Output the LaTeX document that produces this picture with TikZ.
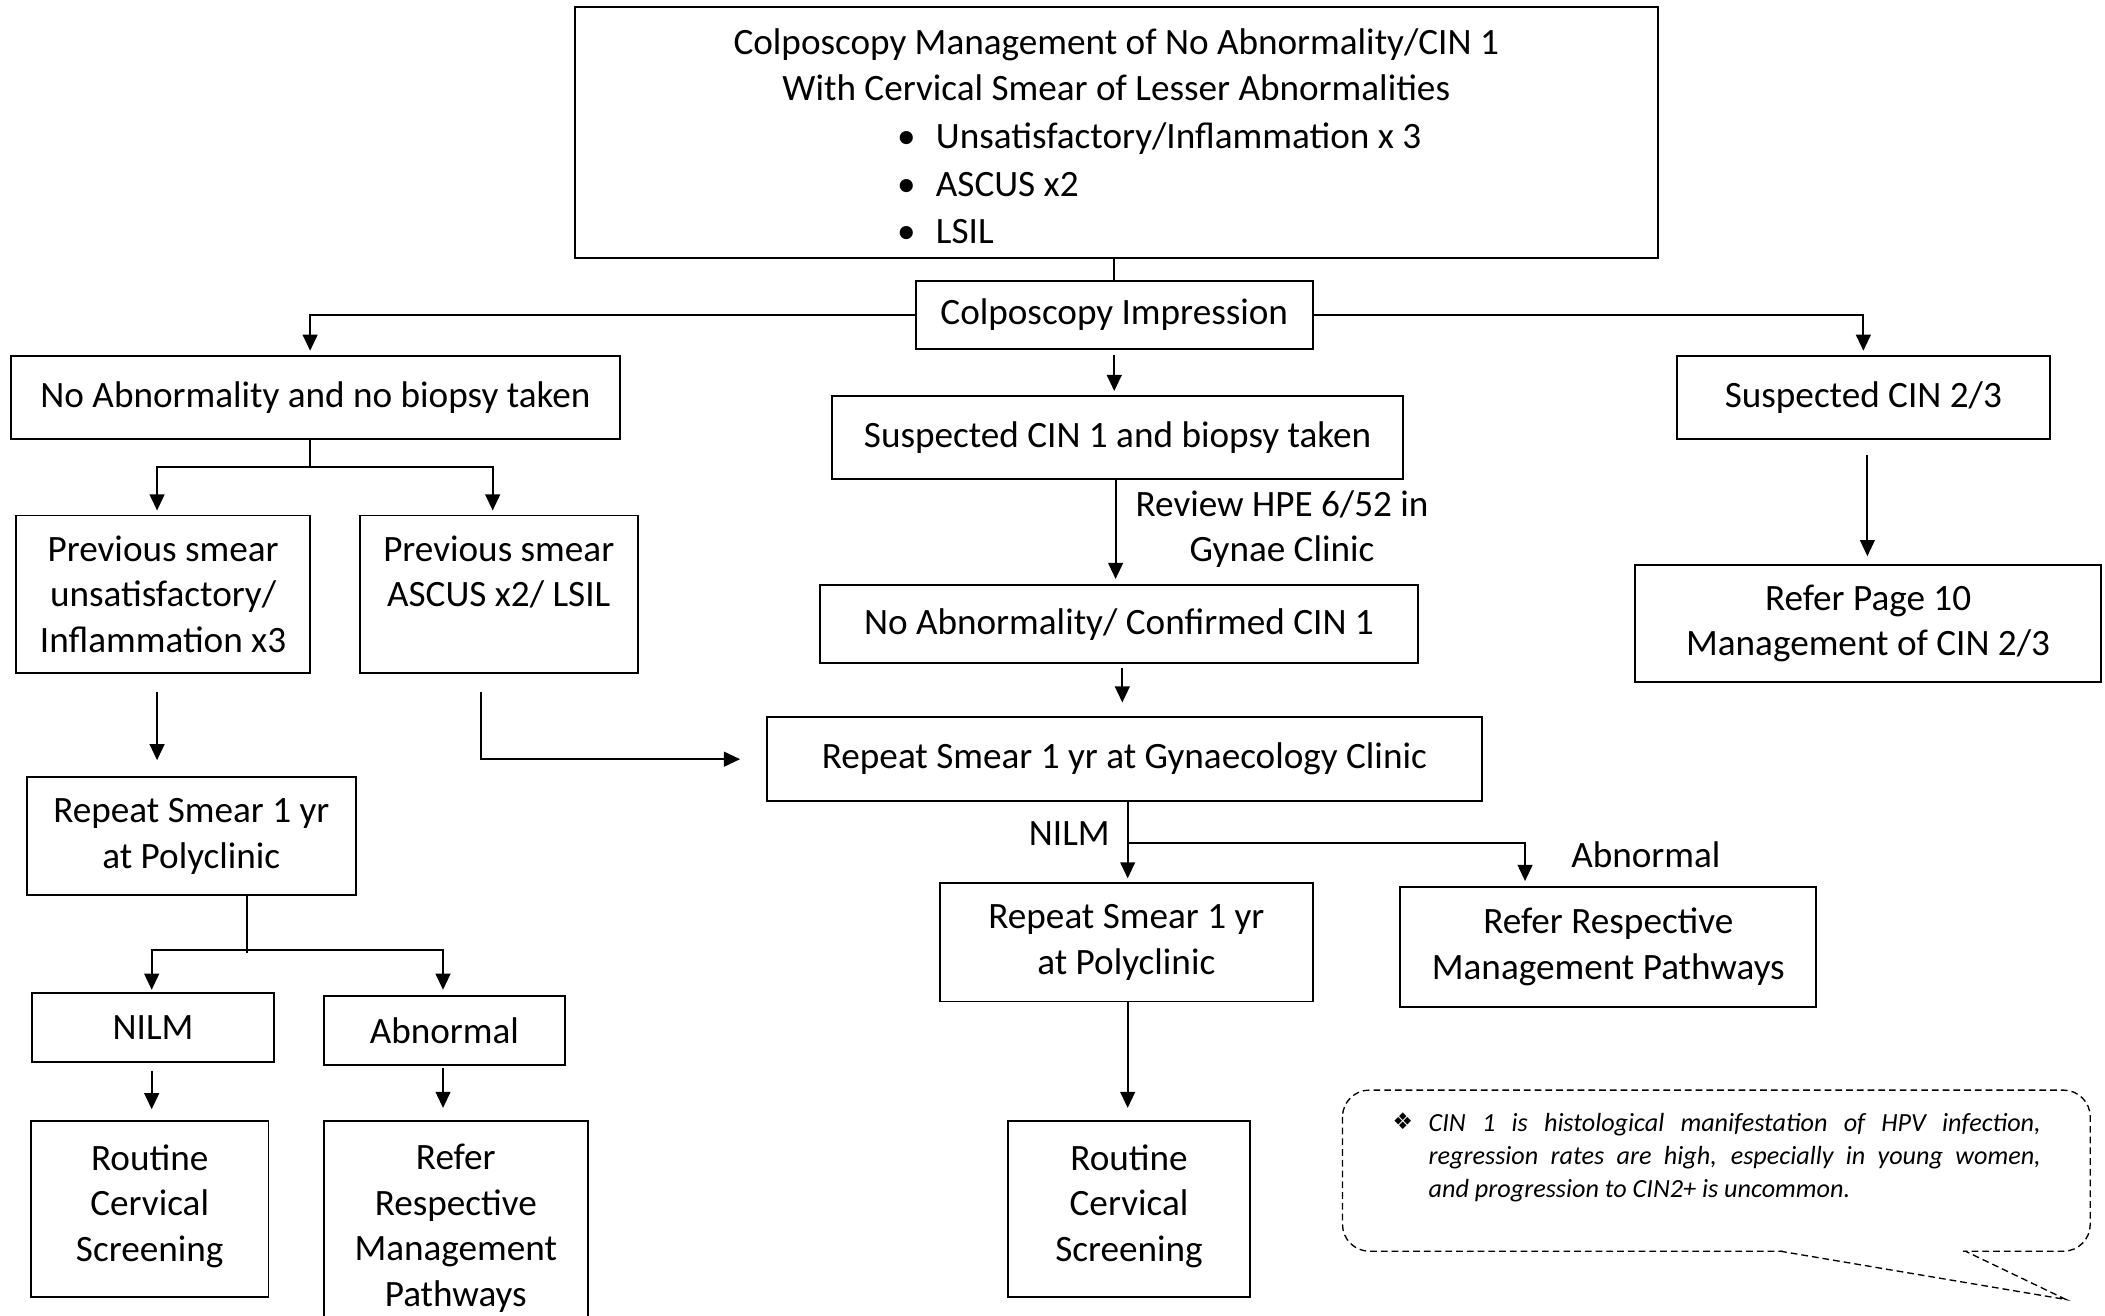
\documentclass[tikz,border=0pt]{standalone}
\usepackage{fontspec}
\setmainfont{Carlito}
\newfontfamily\symbolfont{DejaVu Sans}
\usetikzlibrary{arrows.meta}
\newcommand\flowfont{\fontsize{27.7pt}{34pt}\selectfont}
\newcommand\notefont{\fontsize{19.5pt}{24.5pt}\selectfont\itshape}
\newcommand\listbullet{\makebox[29pt][l]{\textbullet}}

\begin{document}
\begin{tikzpicture}[x=1pt, y=-1pt,
  box/.style={draw, line width=1.45pt, align=center, inner sep=0pt, font=\flowfont},
  lbl/.style={font=\flowfont, align=center, inner sep=0pt},
  link/.style={line width=1.45pt},
  arr/.style={line width=1.45pt, -{Triangle[length=12pt,width=11pt]}},
  callout/.style={line width=1pt, dash pattern=on 5pt off 3pt}
]
\useasboundingbox (0,0) rectangle (1568,980);
\clip (0,0) rectangle (1568,980);
\fill[white] (0,0) rectangle (1568,980);

% heading box with the smear results
\node[box, minimum width=807pt, minimum height=187pt] (top) at (831.5,98.5) {};
\node[lbl] (title) at (831.5,48) {Colposcopy Management of No Abnormality/CIN 1\\With Cervical Smear of Lesser Abnormalities};
\node[lbl, align=left, anchor=west] (smears) at (668,136.5)
  {\listbullet Unsatisfactory/Inflammation x 3\\[1.5pt]\listbullet ASCUS x2\\[1.5pt]\listbullet LSIL};

% flow boxes
\node[box, minimum width=296pt, minimum height=51pt] (imp) at (830,234.5) {Colposcopy Impression};
\node[box, minimum width=454pt, minimum height=62pt] (noab) at (235,296) {\raisebox{2.5pt}{No Abnormality and no biopsy taken}};
\node[box, minimum width=425pt, minimum height=62pt] (cin1) at (832.5,326) {\raisebox{2.5pt}{Suspected CIN 1 and biopsy taken}};
\node[box, minimum width=278pt, minimum height=62pt] (cin23) at (1388,296) {\raisebox{2.5pt}{Suspected CIN 2/3}};
\node[box, minimum width=219pt, minimum height=117pt] (prev1) at (121.5,442.5) {Previous smear\\unsatisfactory/\\Inflammation x3};
\node[box, minimum width=207pt, minimum height=117pt] (prev2) at (371.5,442.5) {Previous smear\\ASCUS x2/ LSIL\\\mbox{}};
\node[box, minimum width=445pt, minimum height=58pt] (conf) at (833.5,465) {No Abnormality/ Confirmed CIN 1};
\node[box, minimum width=347pt, minimum height=87pt] (page10) at (1391.5,464.5) {Refer Page 10\\Management of CIN 2/3};
\node[box, minimum width=533pt, minimum height=63pt] (gyn) at (837.5,565.5) {\raisebox{2.5pt}{Repeat Smear 1 yr at Gynaecology Clinic}};
\node[box, minimum width=245pt, minimum height=88pt] (rpl) at (142.5,623) {Repeat Smear 1 yr\\at Polyclinic};
\node[box, minimum width=278pt, minimum height=88pt] (rpm) at (839,702) {Repeat Smear 1 yr\\at Polyclinic};
\node[box, minimum width=310pt, minimum height=89pt] (refm) at (1198,705.5) {Refer Respective\\Management Pathways};
\node[box, minimum width=180pt, minimum height=51pt] (nilm) at (114,765.5) {NILM};
\node[box, minimum width=180pt, minimum height=51pt] (abn) at (331,767.5) {Abnormal};
\node[box, minimum width=177pt, minimum height=131pt, text depth=9pt] (rcl) at (111.5,900.5) {Routine\\Cervical\\Screening};
\node[box, minimum width=197pt, minimum height=160pt] (refl) at (339.5,915) {Refer\\Respective\\Management\\Pathways};
\node[box, minimum width=180pt, minimum height=131pt, text depth=9pt] (rcm) at (841,900.5) {Routine\\Cervical\\Screening};

% connector labels
\node[lbl] (hpe) at (955,394) {Review HPE 6/52 in\\Gynae Clinic};
\node[lbl] (nilmlab) at (796.5,621) {NILM};
\node[lbl] (abnlab) at (1226,637) {Abnormal};

% connectors
\draw[link] (top.south -| imp.north) -- (imp.north);
\draw[arr, shorten >=3pt] (imp.west) -| ([xshift=-4pt]noab.north);
\draw[arr, shorten >=3pt] (imp.east) -| (cin23.north);
\draw[arr, shorten <=4pt, shorten >=3pt] (imp.south) -- (imp.south |- cin1.north);

\draw[link] ([xshift=-4pt]noab.south) -- ++(0,20) coordinate (nb);
\draw[arr, shorten >=3pt] (nb) -| ([xshift=-4.5pt]prev1.north);
\draw[arr, shorten >=3pt] (nb) -| ([xshift=-4.5pt]prev2.north);

\draw[arr, shorten <=14pt, shorten >=12pt] ([xshift=-4.5pt]prev1.south) -- ([xshift=-4.5pt]prev1.south |- rpl.north);
\draw[arr, shorten <=14pt, shorten >=19pt] ([xshift=-13.5pt]prev2.south) |- (gyn.west);

\draw[link] ([xshift=41.5pt]rpl.south) -- ++(0,42);
\path ([xshift=41.5pt]rpl.south) ++(0,40) coordinate (lb);
\draw[arr, shorten >=2pt] (lb) -| ([xshift=-1pt]nilm.north);
\draw[arr, shorten >=4pt] (lb) -| ([xshift=-1pt]abn.north);
\draw[arr, shorten <=6pt, shorten >=8pt] ([xshift=-1pt]nilm.south) -- ([xshift=-1pt]nilm.south |- rcl.north);
\draw[arr, shorten <=2pt, shorten >=9pt] ([xshift=-1pt]abn.south) -- ([xshift=-1pt]abn.south |- refl.north);

\draw[arr, shorten >=4pt] ([xshift=-1.5pt]cin1.south) -- ([xshift=-1.5pt]cin1.south |- conf.north);
\draw[arr, shorten <=3pt, shorten >=10pt] ([xshift=2.5pt]conf.south) -- ([xshift=2.5pt]conf.south |- gyn.north);
\draw[arr, shorten >=3pt] ([xshift=1pt]rpm.north |- gyn.south) -- ([xshift=1pt]rpm.north);
\path ([xshift=1pt]rpm.north |- gyn.south) ++(0,30) coordinate (gb);
\draw[arr, shorten >=4pt] (gb) -| ([xshift=-62pt]refm.north);
\draw[arr, shorten >=9pt] ([xshift=1pt]rpm.south) -- ([xshift=1pt]rpm.south |- rcm.north);

\draw[arr, shorten <=11pt, shorten >=6pt] ([xshift=3pt]cin23.south) -- ([xshift=3pt]cin23.south |- page10.north);

% speech-bubble note
\draw[callout, rounded corners=20pt] (1000,812) rectangle (1557,932);
\fill[white] (1328,928) rectangle (1462,936);
\draw[callout] (1326,932) -- (1539,968) -- (1464,932);
\node[inner sep=0pt, font=\symbolfont\fontsize{17pt}{17pt}\selectfont] (notemark) at (1045,835) {❖};
\node[font=\notefont, text width=456pt, align=justify, anchor=north west, inner sep=0pt] (note) at (1064,829)
  {\hyphenpenalty=10000 CIN 1 is histological manifestation of HPV infection,\linebreak regression rates are high, especially in young women,\linebreak and progression to CIN2+ is uncommon.};
\end{tikzpicture}
\end{document}
